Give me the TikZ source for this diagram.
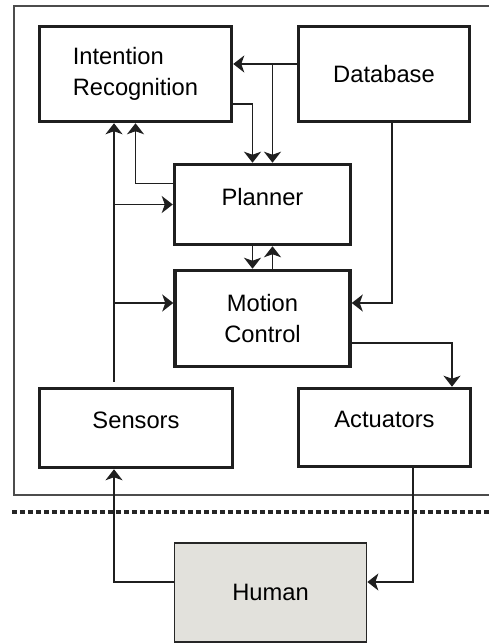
\documentclass[tikz,border=0pt]{standalone}
\usepackage{fontspec}
\setmainfont{Liberation Sans}
\usetikzlibrary{arrows.meta,calc}

\begin{document}
\begin{tikzpicture}[
  x=0.02cm,
  y=-0.02cm,
  >=Stealth,
  font={\fontsize{13.5}{18}\selectfont},
  line/.style={draw=black!88,line width=0.9pt},
  arrow/.style={line,-{Stealth[length=0.22cm,width=0.34cm,inset=0.06cm]}},
  block/.style={draw=black!88,line width=2pt,align=center,inner sep=2pt},
  raised/.style={text depth=0.32cm},
  humanbox/.style={draw=black!85,line width=1pt,fill=humangray,align=center},
  frame/.style={draw=black!70,line width=0.9pt},
  divider/.style={draw=black!85,line width=1.9pt,dash pattern=on 0.1cm off 0.06cm}
]
\definecolor{humangray}{HTML}{E2E1DC}
\useasboundingbox (0,0) rectangle (488,644);

% Robot system frame (open on the right)
\draw[frame] (490,6) -- (14,6) -- (14,495) -- (490,495);

% Boundary between robot and human
\draw[divider] (12,512) -- (490,512);

% Blocks
\node[block,minimum width=3.84cm,minimum height=1.9cm,align=left] (ir) at (135.5,74)
  {Intention\\Recognition};
\node[block,minimum width=3.42cm,minimum height=1.9cm] (db) at (384,74) {Database};
\node[block,raised,minimum width=3.52cm,minimum height=1.6cm] (planner) at (262.5,204.5) {Planner};
\node[block,minimum width=3.5cm,minimum height=1.92cm] (mc) at (262.5,318.5) {Motion\\Control};
\node[block,raised,minimum width=3.86cm,minimum height=1.58cm] (sensors) at (136,428) {Sensors};
\node[block,raised,minimum width=3.44cm,minimum height=1.56cm] (act) at (384.5,427.5) {Actuators};
\node[humanbox,minimum width=3.84cm,minimum height=1.98cm] (human) at (270.5,592.5) {Human};

% Helper points
\coordinate (dbout) at ([yshift=0.2cm]db.west);
\coordinate (dbsplit) at ([xshift=0.2cm]planner.north |- dbout);
\coordinate (sensup) at ([xshift=-0.44cm]sensors.north);
\coordinate (mcleft) at ([yshift=0.31cm]mc.west);
\coordinate (mcright) at ([yshift=0.31cm]mc.east);
\coordinate (humanin) at ([yshift=0.21cm]human.east);
\coordinate (humanout) at ([yshift=0.21cm]human.west);

% Database to intention recognition and planner
\draw[arrow] (dbout) -- (ir.east |- dbout);
\draw[arrow] (dbsplit) -- (dbsplit |- planner.north);
\draw[arrow] ([xshift=0.16cm]db.south) |- (mcright);

% Intention recognition <-> planner
\draw[arrow] ([yshift=-0.6cm]ir.east) -| ([xshift=-0.2cm]planner.north);
\draw[arrow] ([yshift=0.42cm]planner.west) -| (ir.south);

% Planner <-> motion control
\draw[arrow] ([xshift=-0.2cm]planner.south) -- ([xshift=-0.2cm]mc.north);
\draw[arrow] ([xshift=0.2cm]mc.north) -- ([xshift=0.2cm]planner.south);

% Sensor feedback
\draw[arrow,shorten <=0.1cm] (sensup) -- (sensup |- ir.south);
\draw[arrow] (sensup |- planner.west) -- (planner.west);
\draw[arrow] (sensup |- mcleft) -- (mcleft);

% Motion control to actuators
\draw[arrow] ([yshift=-0.49cm]mc.east) -| ([xshift=1.35cm]act.north);

% Loop through the human
\draw[arrow] (humanout) -| (sensup |- sensors.south);
\draw[arrow] ([xshift=0.57cm]act.south) |- (humanin);

\end{tikzpicture}
\end{document}
